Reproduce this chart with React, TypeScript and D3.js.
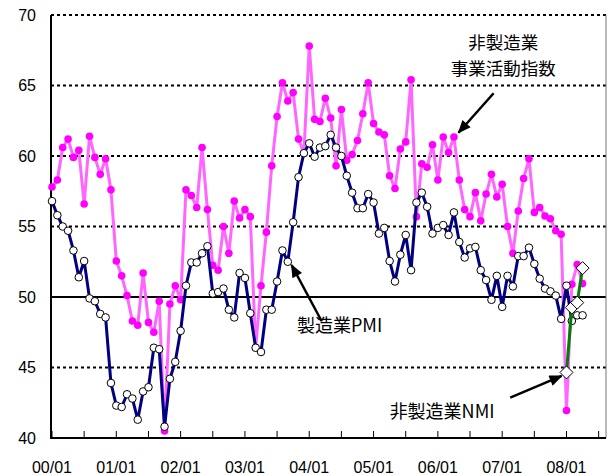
import React from 'react';
import * as d3 from 'd3';

const W = 608;
const H = 475;

const yearCodes = ['00', '01', '02', '03', '04', '05', '06', '07', '08'];
const monthCodes = ['01', '02', '03', '04', '05', '06', '07', '08', '09', '10', '11', '12'];
const categories: string[] = yearCodes.flatMap((y) => monthCodes.map((m) => `${y}/${m}`)).slice(0, 104);

const xTickLabels = ['00/01', '01/01', '02/01', '03/01', '04/01', '05/01', '06/01', '07/01', '08/01'];
const yTicks = [40, 45, 50, 55, 60, 65, 70];

// 非製造業 事業活動指数 (2000/01 – 2008/04)
const nonMfgActivity = [
  57.8, 58.3, 60.6, 61.2, 59.9, 60.4, 56.6, 61.4, 59.9, 58.7, 59.8, 57.6,
  52.55, 51.5, 50.1, 48.3, 48.0, 51.7, 48.2, 47.5, 49.7, 40.5, 49.5, 50.8,
  49.8, 57.6, 57.2, 56.35, 60.6, 56.2, 52.25, 51.9, 55.0, 53.1, 56.8, 55.6,
  56.2, 55.7, 46.4, 50.8, 54.6, 59.3, 62.8, 65.2, 63.9, 64.5, 61.2, 60.2,
  67.8, 62.6, 62.45, 64.1, 62.7, 59.3, 63.3, 59.7, 60.1, 61.1, 63.0, 65.2,
  62.3, 61.7, 61.5, 58.6, 57.7, 60.5, 61.0, 65.4, 55.7, 59.45, 59.2, 60.8,
  58.3, 61.35, 60.25, 61.35, 58.3, 56.2, 55.7, 57.4, 55.4, 57.3, 58.7, 57.1,
  58.0, 55.0, 53.1, 56.1, 58.4, 59.8, 56.0, 56.35, 55.75, 55.55, 54.7, 54.45,
  41.95, 50.9, 52.3, 50.95,
];

// 製造業PMI (2000/01 – 2008/04)
const mfgPMI = [
  56.8, 55.8, 55.0, 54.7, 53.3, 51.4, 52.55, 49.9, 49.7, 48.8, 48.55, 43.9,
  42.3, 42.2, 43.1, 42.8, 41.3, 43.3, 43.6, 46.4, 46.3, 40.8, 44.2, 45.4,
  47.6, 50.8, 52.45, 52.45, 53.1, 53.6, 50.25, 50.35, 50.6, 49.1, 48.55, 51.7,
  51.35, 48.85, 46.4, 46.1, 49.1, 49.1, 51.1, 53.3, 52.5, 55.3, 58.5, 60.2,
  60.9, 59.95, 60.6, 60.7, 61.5, 60.6, 60.0, 58.6, 57.4, 56.3, 56.3, 57.3,
  56.7, 54.5, 54.9, 52.55, 51.1, 53.0, 54.4, 51.9, 56.7, 57.4, 56.4, 54.5,
  54.9, 55.1, 54.4, 56.0, 53.9, 52.8, 53.45, 53.55, 51.9, 51.2, 49.8, 51.5,
  49.3, 51.5, 50.75, 52.9, 52.9, 53.5, 52.35, 51.3, 50.6, 50.4, 50.1, 48.45,
  50.8, 48.3, 48.7, 48.7,
];

// 非製造業NMI (2008/01 – 2008/04)
const nmiStart = 96;
const nonMfgNMI = [44.65, 49.25, 49.6, 52.05];

const FONT_NUM = '"Liberation Sans", Arial, sans-serif';
const FONT_JP = '"Noto Sans CJK JP", "Noto Sans", sans-serif';

export default function App() {
  const left = 52;
  const right = 604;
  const top = 15;
  const bottom = 438;

  const x = d3.scalePoint<string>().domain(categories).range([left, right]);
  const xi = d3.scaleLinear().domain([0, categories.length - 1]).range([left, right]);
  const y = d3.scaleLinear().domain([40, 70]).range([bottom, top]);

  const line = d3
    .line<[string, number]>()
    .x((d) => x(d[0]) as number)
    .y((d) => y(d[1]));

  const actData: [string, number][] = nonMfgActivity.map((v, i) => [categories[i], v]);
  const pmiData: [string, number][] = mfgPMI.map((v, i) => [categories[i], v]);
  const nmiData: [string, number][] = nonMfgNMI.map((v, i) => [categories[nmiStart + i], v]);

  const tickCats = categories.filter((c) => c.endsWith('/01') || c.endsWith('/07'));

  const diamond = (cx: number, cy: number, r: number) =>
    `M${cx},${cy - r}L${cx + r},${cy}L${cx},${cy + r}L${cx - r},${cy}Z`;

  const arrows = [
    { from: [82.4, 64.45], to: [75.85, 61.65] },
    { from: [50.3, 48.3], to: [44.7, 52.27] },
    { from: [85.5, 42.86], to: [95.1, 44.4] },
  ];

  return (
    <svg
      width={W}
      height={H}
      style={{ position: 'absolute', left: 0, top: 0, background: '#fff' }}
    >
      <defs>
        <marker
          id="ah"
          viewBox="0 0 12 10"
          refX="11"
          refY="5"
          markerWidth="14"
          markerHeight="11"
          markerUnits="userSpaceOnUse"
          orient="auto"
        >
          <path d="M0,0L12,5L0,10Z" fill="#000" />
        </marker>
      </defs>
      <rect x={0} y={0} width={W} height={H} fill="#fff" />

      {/* grid lines */}
      {yTicks
        .filter((t) => t !== 40 && t !== 50)
        .map((t) => (
          <line
            key={`g${t}`}
            x1={left - 1}
            x2={606}
            y1={y(t)}
            y2={y(t)}
            stroke="#000"
            strokeWidth={2}
            strokeDasharray="3,3"
          />
        ))}
      <line x1={left - 1} x2={606} y1={y(50)} y2={y(50)} stroke="#000" strokeWidth={2} />

      {/* right border */}
      <line x1={606} x2={606} y1={top} y2={bottom} stroke="#777" strokeWidth={1} />

      {/* axes */}
      <line x1={left - 1} x2={left - 1} y1={top} y2={bottom + 1} stroke="#000" strokeWidth={2} />
      <line x1={left - 2} x2={606} y1={bottom} y2={bottom} stroke="#000" strokeWidth={2} />
      {tickCats.map((c) => (
        <line
          key={`t${c}`}
          x1={x(c)}
          x2={x(c)}
          y1={bottom}
          y2={bottom - 7}
          stroke="#000"
          strokeWidth={1}
        />
      ))}

      {/* y labels */}
      {yTicks.map((t) => (
        <text
          key={`yl${t}`}
          x={36}
          y={y(t)}
          dy="0.36em"
          textAnchor="end"
          fontFamily={FONT_NUM}
          fontSize={16}
          fill="#000"
        >
          {t}
        </text>
      ))}

      {/* x labels */}
      {xTickLabels.map((lab) => (
        <text
          key={`xl${lab}`}
          x={x(lab) as number}
          y={473}
          textAnchor="middle"
          fontFamily={FONT_NUM}
          fontSize={16}
          fill="#000"
        >
          {lab}
        </text>
      ))}

      {/* non-manufacturing activity index */}
      <path d={line(actData) || ''} fill="none" stroke="#FF66FF" strokeWidth={3} strokeLinejoin="round" />
      {actData.map((d, i) => (
        <circle key={`a${i}`} cx={x(d[0])} cy={y(d[1])} r={3.8} fill="#FF00FF" />
      ))}

      {/* manufacturing PMI */}
      <path d={line(pmiData) || ''} fill="none" stroke="#000080" strokeWidth={3} strokeLinejoin="round" />
      {pmiData.map((d, i) => (
        <circle
          key={`p${i}`}
          cx={x(d[0])}
          cy={y(d[1])}
          r={3.8}
          fill="#fff"
          stroke="#000"
          strokeWidth={1}
        />
      ))}

      {/* non-manufacturing NMI */}
      <path d={line(nmiData) || ''} fill="none" stroke="#008000" strokeWidth={3} />
      {nmiData.map((d, i) => (
        <path
          key={`n${i}`}
          d={diamond(x(d[0]) as number, y(d[1]), 6.5)}
          fill="#fff"
          stroke="#000"
          strokeWidth={1}
        />
      ))}

      {/* annotations */}
      {arrows.map((a, i) => (
        <line
          key={`ar${i}`}
          x1={xi(a.from[0])}
          y1={y(a.from[1])}
          x2={xi(a.to[0])}
          y2={y(a.to[1])}
          stroke="#000"
          strokeWidth={2.5}
          markerEnd="url(#ah)"
        />
      ))}
      <text x={xi(84.2)} y={y(68.05)} dy="0.36em" textAnchor="middle" fontFamily={FONT_JP} fontSize={17.5} fill="#000">
        非製造業
      </text>
      <text x={xi(84.2)} y={y(66.2)} dy="0.36em" textAnchor="middle" fontFamily={FONT_JP} fontSize={17.5} fill="#000">
        事業活動指数
      </text>
      <text x={xi(45.7)} y={y(48.0)} dy="0.36em" textAnchor="start" fontFamily={FONT_JP} fontSize={18} fill="#000">
        製造業PMI
      </text>
      <text x={xi(63.0)} y={y(41.85)} dy="0.36em" textAnchor="start" fontFamily={FONT_JP} fontSize={18} fill="#000">
        非製造業NMI
      </text>
    </svg>
  );
}
